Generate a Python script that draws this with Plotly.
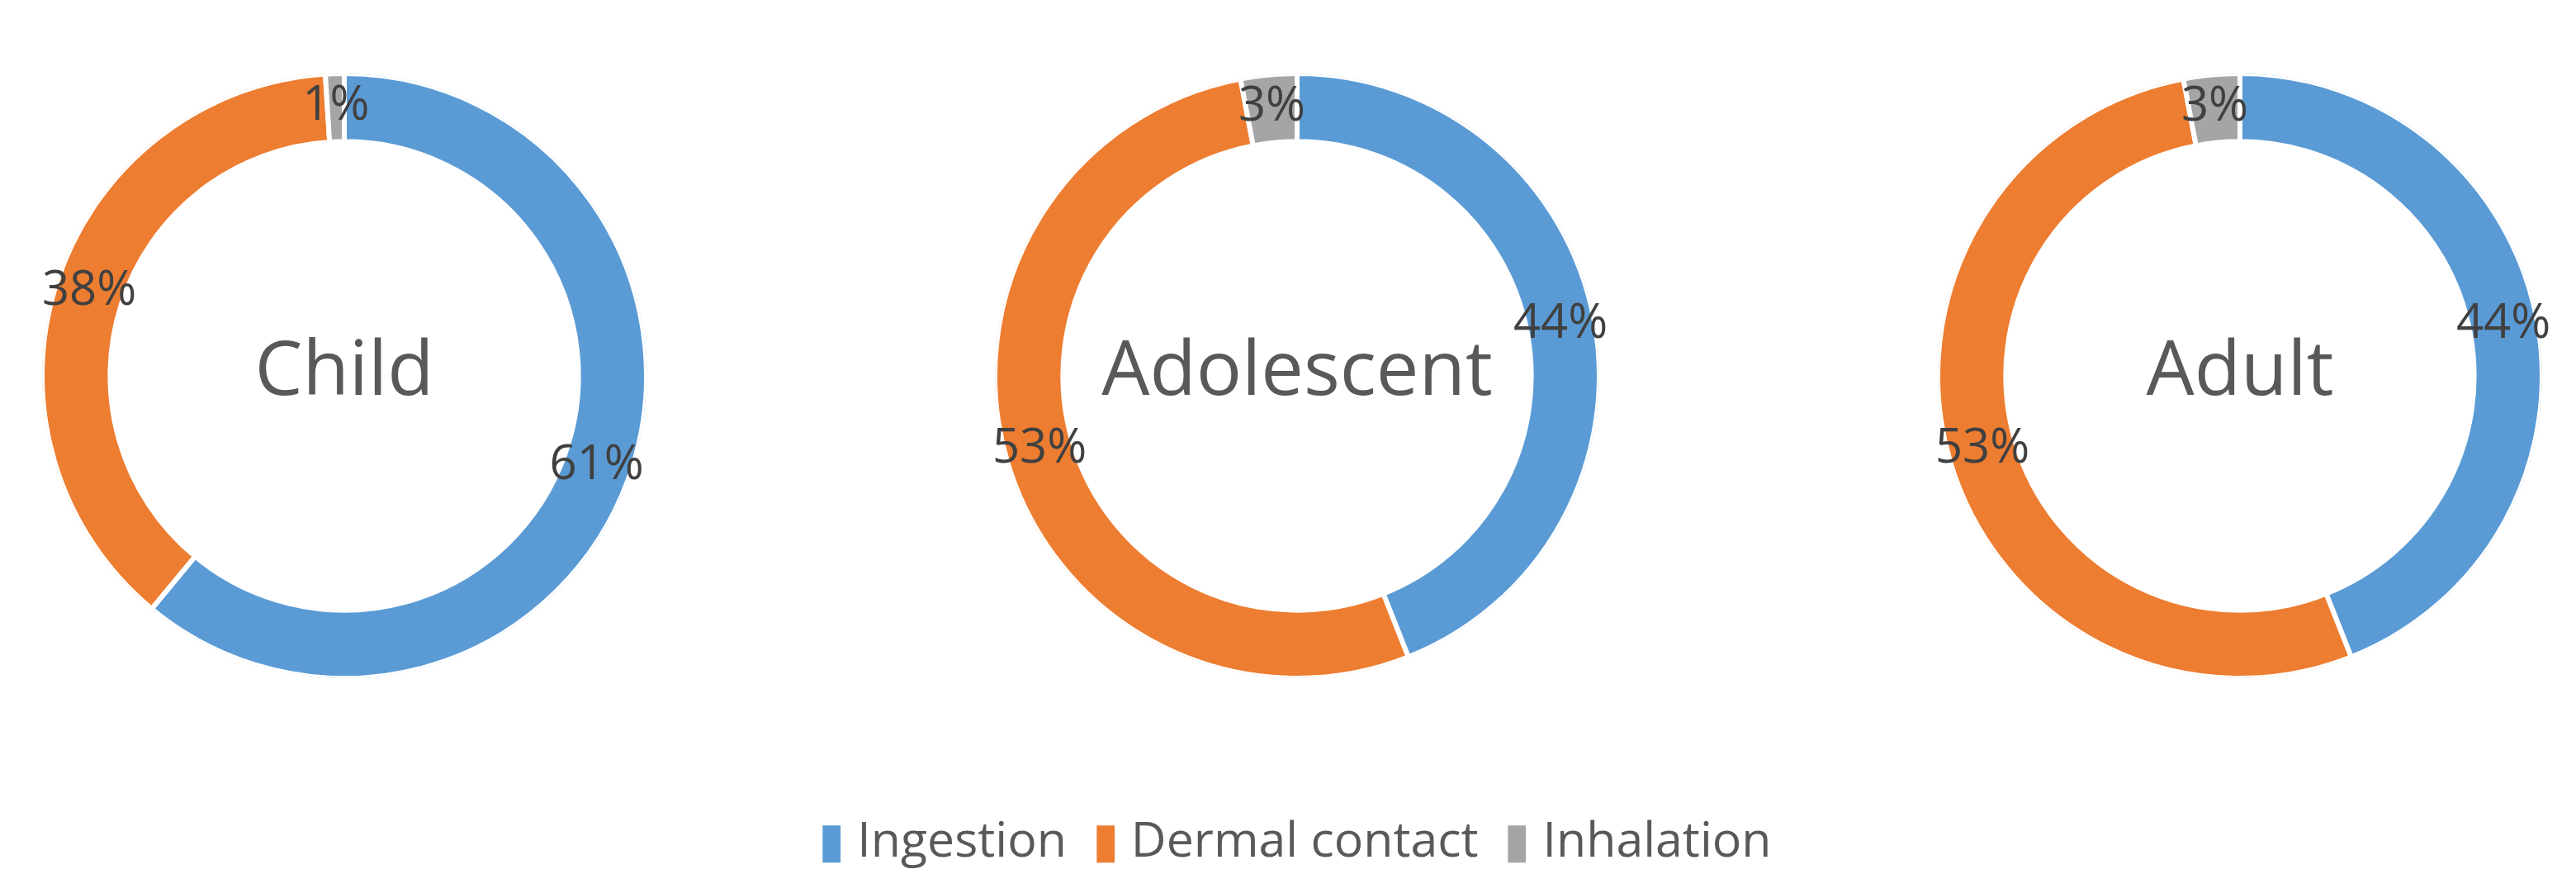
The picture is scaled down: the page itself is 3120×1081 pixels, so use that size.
import numpy as np
import plotly.graph_objects as go

categories = ["Ingestion", "Dermal contact", "Inhalation"]
groups = ["Child", "Adolescent", "Adult"]
child_values = [61, 38, 1]
adolescent_values = [44, 53, 3]
adult_values = [44, 53, 3]
colors = ["#5B9BD5", "#ED7D31", "#A5A5A5"]

W, H = 3120, 1081
centers_x = [409, 1563, 2705]
center_y = 447
R = 366
HOLE = 0.775
FONT = "Open Sans"

fig = go.Figure()
layout_polars = {}
for i, (name, vals) in enumerate(zip(groups, [child_values, adolescent_values, adult_values])):
    vals = np.asarray(vals, dtype=float)
    share = vals / vals.sum()
    widths = share * 360.0
    mids = np.cumsum(widths) - widths / 2
    sub = "polar" if i == 0 else f"polar{i + 1}"
    fig.add_trace(go.Barpolar(
        r=[1 - HOLE] * len(vals),
        base=HOLE,
        theta=mids,
        width=widths,
        marker=dict(color=colors, line=dict(color="white", width=6)),
        customdata=categories,
        hovertemplate="%{customdata}<extra></extra>",
        showlegend=False,
        subplot=sub,
    ))
    fig.add_trace(go.Scatterpolar(
        r=[(1 + HOLE) / 2] * len(vals),
        theta=mids,
        mode="text",
        text=[f"{round(p * 100):.0f}%" for p in share],
        textfont=dict(family=FONT, size=58, color="#404040"),
        textposition="middle center",
        hoverinfo="skip",
        showlegend=False,
        subplot=sub,
    ))
    fig.add_trace(go.Scatterpolar(
        r=[0],
        theta=[0],
        mode="text",
        text=[name],
        textfont=dict(family=FONT, size=92, color="#595959"),
        textposition="middle center",
        hoverinfo="skip",
        showlegend=False,
        subplot=sub,
    ))
    cx = centers_x[i]
    layout_polars[sub] = dict(
        domain=dict(x=[(cx - R) / W, (cx + R) / W],
                    y=[(H - center_y - R) / H, (H - center_y + R) / H]),
        bgcolor="rgba(0,0,0,0)",
        radialaxis=dict(range=[0, 1], visible=False, showgrid=False, showline=False, showticklabels=False),
        angularaxis=dict(rotation=90, direction="clockwise", visible=False, showgrid=False,
                         showline=False, showticklabels=False, ticks=""),
        bargap=0,
    )

legend_text = "&nbsp;&nbsp;".join(
    f'<span style="color:{c}">▮</span>&nbsp;{lab}' for c, lab in zip(colors, categories)
)

fig.update_layout(
    width=W, height=H,
    margin=dict(l=0, r=0, t=0, b=0),
    paper_bgcolor="white",
    plot_bgcolor="white",
    showlegend=False,
    annotations=[dict(
        text=legend_text, x=0.5, y=1 - 1006 / H, xref="paper", yref="paper",
        xanchor="center", yanchor="middle", showarrow=False,
        font=dict(family=FONT, size=59, color="#595959"),
    )],
    **layout_polars,
)
fig.write_html("out.html")
